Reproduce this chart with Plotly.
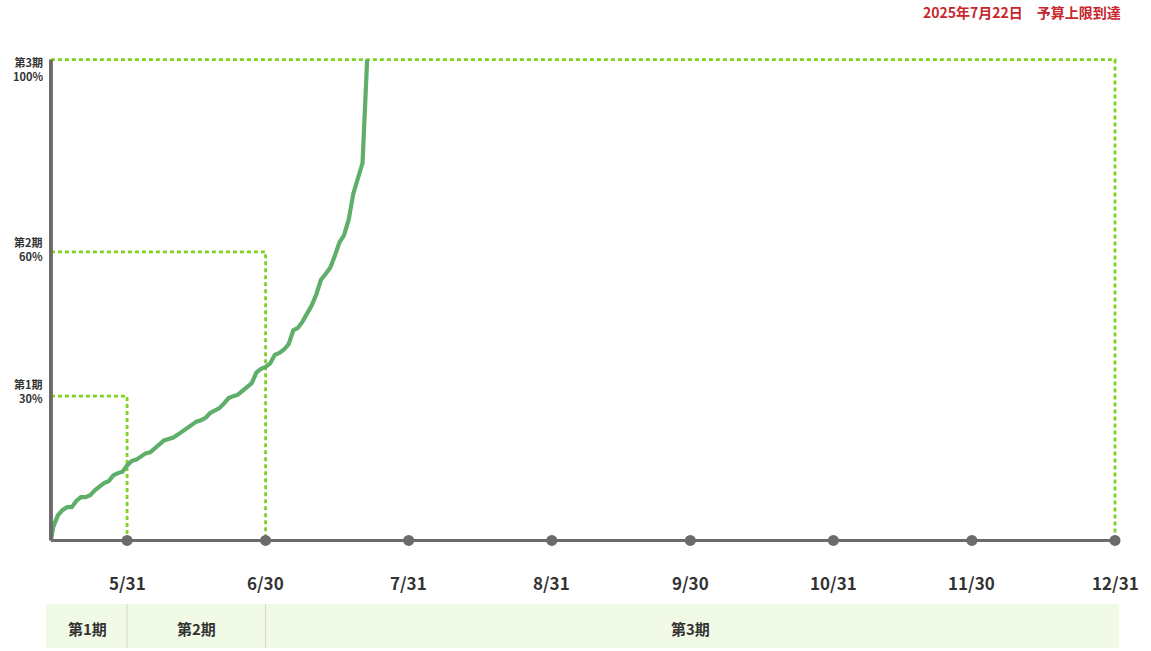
import plotly.graph_objects as go
import pandas as pd

# ---------------- data ----------------
start_date = "2025-05-14 12:00"
line_dates = [start_date] + [d.strftime("%Y-%m-%d") for d in pd.date_range("2025-05-15", "2025-07-22")]
line_values = [
    0,
    # May 15 - May 31
    2.8, 5.2, 6.3, 6.9, 6.9, 8.2, 9.0, 9.0, 9.4, 10.4, 11.3, 11.9, 12.3, 13.5, 14.0, 14.3, 15.6,
    # June
    16.5, 16.8, 17.5, 18.1, 18.3, 19.1, 19.9, 20.8, 21.1, 21.4,
    22.0, 22.7, 23.4, 24.0, 24.7, 25.0, 25.5, 26.5, 27.1, 27.5,
    28.5, 29.6, 30.0, 30.3, 31.1, 32.0, 32.7, 34.9, 35.7, 36.1,
    # July 1 - July 22
    36.8, 38.6, 39.0, 39.7, 40.8, 43.7, 44.2, 45.5, 47.3, 48.9,
    51.2, 54.2, 55.4, 56.7, 59.2, 62.0, 63.5, 66.7, 72.1, 75.2,
    78.5, 100.0,
]

tick_dates = ["2025-05-31", "2025-06-30", "2025-07-31", "2025-08-31",
              "2025-09-30", "2025-10-31", "2025-11-30", "2025-12-31"]
tick_labels = ["5/31", "6/30", "7/31", "8/31", "9/30", "10/31", "11/30", "12/31"]

period_labels = ["第1期", "第2期", "第3期"]
period_ends = ["2025-05-31", "2025-06-30", "2025-12-31"]
period_pct = [30, 60, 100]

notice_text = "2025年7月22日\u3000予算上限到達"

# ---------------- styling ----------------
FONT = "Noto Sans CJK JP"
TEXT = "#333333"
AXIS = "#6b6b6b"
GUIDE = "#7ed321"
LINE = "#5fae69"
W, H = 1151, 651
ML, MR, MT, MB = 49, 26, 50, 101
plot_h = H - MT - MB

def py(pix):
    """paper y from pixel y"""
    return (H - MB - pix) / plot_h

fig = go.Figure()

# dashed period guides
for end, pct in zip(period_ends, period_pct):
    fig.add_trace(go.Scatter(
        x=[start_date, end, end], y=[pct, pct, 0], mode="lines",
        line=dict(color=GUIDE, width=2.8, dash="4px,3px"),
        hoverinfo="skip", showlegend=False))

# x axis baseline
fig.add_trace(go.Scatter(
    x=[start_date, tick_dates[-1]], y=[0, 0], mode="lines",
    line=dict(color=AXIS, width=3), hoverinfo="skip", showlegend=False))

# consumption line
fig.add_trace(go.Scatter(
    x=line_dates, y=line_values, mode="lines",
    line=dict(color=LINE, width=4.2), showlegend=False))

# tick dots
fig.add_trace(go.Scatter(
    x=tick_dates, y=[0] * len(tick_dates), mode="markers",
    marker=dict(color=AXIS, size=11), cliponaxis=False,
    hoverinfo="skip", showlegend=False))

shapes = []
# y axis line
shapes.append(dict(type="line", xref="x", yref="y", x0=start_date, x1=start_date,
                   y0=0, y1=100, line=dict(color=AXIS, width=4), layer="above"))
# period band
band_y0, band_y1 = py(604), py(648)
shapes.append(dict(type="rect", xref="paper", yref="paper",
                   x0=(46 - ML) / (W - ML - MR), x1=(1119 - ML) / (W - ML - MR),
                   y0=band_y1, y1=band_y0, fillcolor="#f1fae7",
                   line=dict(width=0), layer="below"))
for end in period_ends[:-1]:
    shapes.append(dict(type="line", xref="x", yref="paper", x0=end, x1=end,
                       y0=band_y1, y1=band_y0, line=dict(color="#d6d6d6", width=1)))

annotations = []
# x tick labels
for d, lab in zip(tick_dates, tick_labels):
    annotations.append(dict(x=d, xref="x", y=py(582), yref="paper", text=lab,
                            showarrow=False, xanchor="center", yanchor="middle",
                            font=dict(family=FONT, size=17, color=TEXT, weight=700)))
# y labels
yshifts = {30: 5, 60: 3, 100: -9}
for lab, pct in zip(period_labels, period_pct):
    annotations.append(dict(x=0, xref="paper", y=pct, yref="y",
                            text=f"{lab}<br>{pct}%", showarrow=False,
                            xanchor="right", yanchor="middle", align="right",
                            xshift=-4, yshift=yshifts[pct],
                            font=dict(family=FONT, size=11, color=TEXT, weight=700)))
# band labels
bounds = [pd.Timestamp("2025-05-14 00:00")] + [pd.Timestamp(e) for e in period_ends]
for i, lab in enumerate(period_labels):
    mid = bounds[i] + (bounds[i + 1] - bounds[i]) / 2
    annotations.append(dict(x=mid.strftime("%Y-%m-%d %H:%M"), xref="x", y=py(628), yref="paper",
                            text=lab, showarrow=False, xanchor="center", yanchor="middle",
                            font=dict(family=FONT, size=15, color=TEXT, weight=700)))
# notice
annotations.append(dict(x=1, xref="paper", y=py(12), yref="paper", text=notice_text,
                        showarrow=False, xanchor="right", yanchor="middle", xshift=-2,
                        font=dict(family=FONT, size=14, color="#c8262c", weight=700)))

fig.update_layout(
    width=W, height=H,
    margin=dict(l=ML, r=MR, t=MT, b=MB),
    paper_bgcolor="white", plot_bgcolor="white",
    showlegend=False,
    xaxis=dict(type="date", range=["2025-05-14 02:00", "2026-01-02 04:00"], visible=False),
    yaxis=dict(range=[-2, 102], visible=False),
    shapes=shapes, annotations=annotations,
    font=dict(family=FONT, color=TEXT),
)

fig.write_html("out.html", config={"displayModeBar": False},
               post_script="document.body.style.margin='0';")
